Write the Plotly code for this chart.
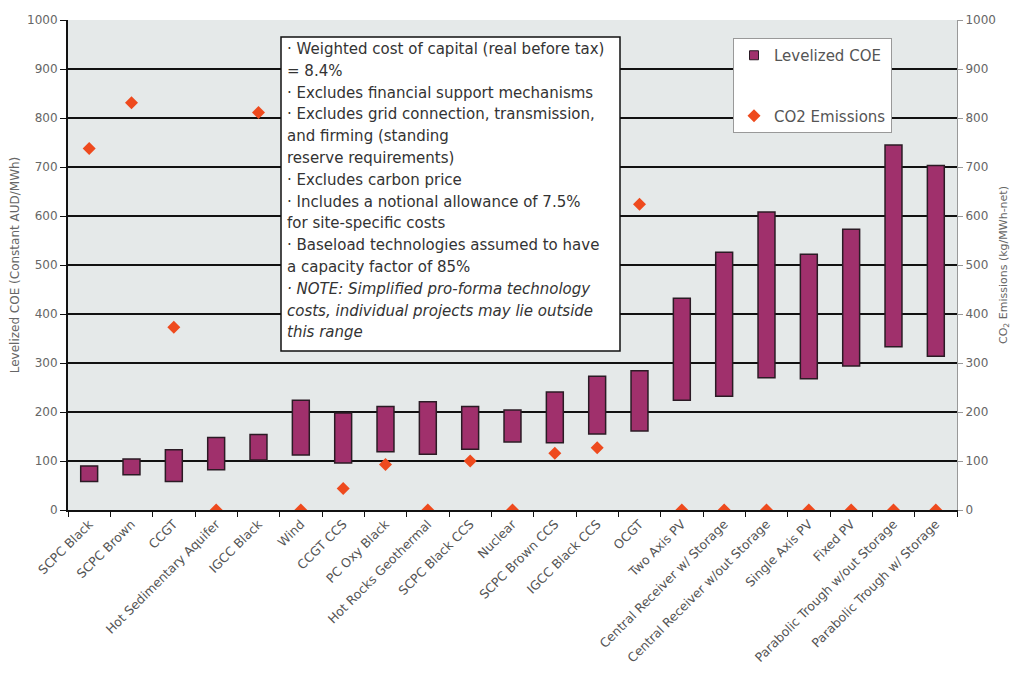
import plotly.graph_objects as go

categories = ["SCPC Black", "SCPC Brown", "CCGT", "Hot Sedimentary Aquifer", "IGCC Black",
              "Wind", "CCGT CCS", "PC Oxy Black", "Hot Rocks Geothermal", "SCPC Black CCS",
              "Nuclear", "SCPC Brown CCS", "IGCC Black CCS", "OCGT", "Two Axis PV",
              "Central Receiver w/ Storage", "Central Receiver w/out Storage", "Single Axis PV",
              "Fixed PV", "Parabolic Trough w/out Storage", "Parabolic Trough w/ Storage"]
coe_low = [58, 72, 58, 82, 102, 112, 96, 119, 114, 124, 139, 137, 155, 161,
           224, 232, 270, 268, 294, 333, 314]
coe_high = [90, 104, 123, 148, 154, 224, 198, 211, 221, 211, 204, 241, 273, 284,
            432, 526, 608, 522, 573, 745, 703]
co2 = [738, 831, 373, 0, 811, 0, 44, 93, 0, 100, 0, 116, 127, 624,
       0, 0, 0, 0, 0, 0, 0]
y_ticks = list(range(0, 1001, 100))

note_lines = [
    "· Weighted cost of capital (real before tax)",
    "= 8.4%",
    "· Excludes financial support mechanisms",
    "· Excludes grid connection, transmission,",
    "and firming (standing",
    "reserve requirements)",
    "· Excludes carbon price",
    "· Includes a notional allowance of 7.5%",
    "for site-specific costs",
    "· Baseload technologies assumed to have",
    "a capacity factor of 85%",
    "<i>· NOTE: Simplified pro-forma technology</i>",
    "<i>costs, individual projects may lie outside</i>",
    "<i>this range</i>",
]

FONT = "DejaVu Sans"
OFF = 8  # default page body margin
W, H = 1033 - OFF, 684 - OFF
# target plot area in window pixels: x 68..957, y 20..510
ML, MT = 68 - OFF, 20 - OFF
MR = W + OFF - 957
MB = H + OFF - 510
PH = 510 - 20
PW = 957 - 68

BAR_COLOR = "#a0306c"

fig = go.Figure()
fig.add_trace(go.Bar(
    x=categories,
    y=[h - l for h, l in zip(coe_high, coe_low)],
    base=coe_low,
    width=0.4,
    name="Levelized COE",
    marker=dict(color=BAR_COLOR, line=dict(color="#2b1b25", width=1.5)),
    showlegend=False,
))
fig.add_trace(go.Scatter(
    x=[None], y=[None], mode="markers", name="Levelized COE",
    marker=dict(symbol="square", size=9, color=BAR_COLOR,
                line=dict(color="#2b1b25", width=1)),
    legendgroup="a",
))
fig.add_trace(go.Scatter(
    x=categories, y=co2, mode="markers", yaxis="y2",
    name="CO2 Emissions",
    marker=dict(symbol="diamond", size=10, color="#ee4a1e"),
    legendgroup="b",
))


def py(ypx):
    return (510 - ypx) / PH


def px(xpx):
    return (xpx - 68) / PW


shapes = [dict(type="rect", xref="paper", yref="paper",
               x0=px(281), x1=px(620), y0=py(351), y1=py(37),
               fillcolor="white", line=dict(color="#111", width=1.5), layer="above")]

annotations = []
for i, line in enumerate(note_lines):
    annotations.append(dict(
        xref="paper", yref="paper", x=px(285), y=py(49 + i * 21.8),
        xanchor="left", yanchor="middle", showarrow=False, text=line,
        font=dict(family=FONT, size=15, color="#333"),
    ))

fig.update_layout(
    width=W, height=H,
    margin=dict(l=ML, r=MR, t=MT, b=MB, autoexpand=False),
    paper_bgcolor="white", plot_bgcolor="#e5e9e9",
    font=dict(family=FONT, color="#666"),
    barmode="overlay",
    showlegend=True,
    legend=dict(x=px(733), y=py(38), xanchor="left", yanchor="top",
                bgcolor="white", bordercolor="#999", borderwidth=1,
                font=dict(family=FONT, size=15, color="#555"),
                tracegroupgap=38, itemwidth=30),
    xaxis=dict(type="category", tickson="boundaries", ticks="outside", ticklen=5,
               tickcolor="#111", showline=True, linecolor="#111", linewidth=2,
               tickangle=-45, tickfont=dict(family=FONT, size=12.5, color="#555"),
               automargin=False, range=[-0.5, len(categories) - 0.5]),
    yaxis=dict(range=[0, 1000], tickvals=y_ticks, showgrid=True, gridcolor="#111",
               gridwidth=1.5, zeroline=False, showline=True, linecolor="#111",
               linewidth=2, ticks="outside", ticklen=6, tickcolor="#111",
               tickfont=dict(family=FONT, size=12, color="#666"),
               title=dict(text="Levelized COE (Constant AUD/MWh)",
                          font=dict(family=FONT, size=12, color="#666"), standoff=6),
               automargin=False),
    yaxis2=dict(range=[0, 1000], tickvals=y_ticks, overlaying="y", side="right",
                showgrid=False, zeroline=False, showline=True, linecolor="#999",
                linewidth=1, ticks="outside", ticklen=5, tickcolor="#999",
                tickfont=dict(family=FONT, size=12, color="#666"),
                title=dict(text="CO<sub>2</sub> Emissions (kg/MWh-net)",
                           font=dict(family=FONT, size=11, color="#666"), standoff=4),
                automargin=False),
    shapes=shapes,
    annotations=annotations,
)

fig.write_html("out.html")
